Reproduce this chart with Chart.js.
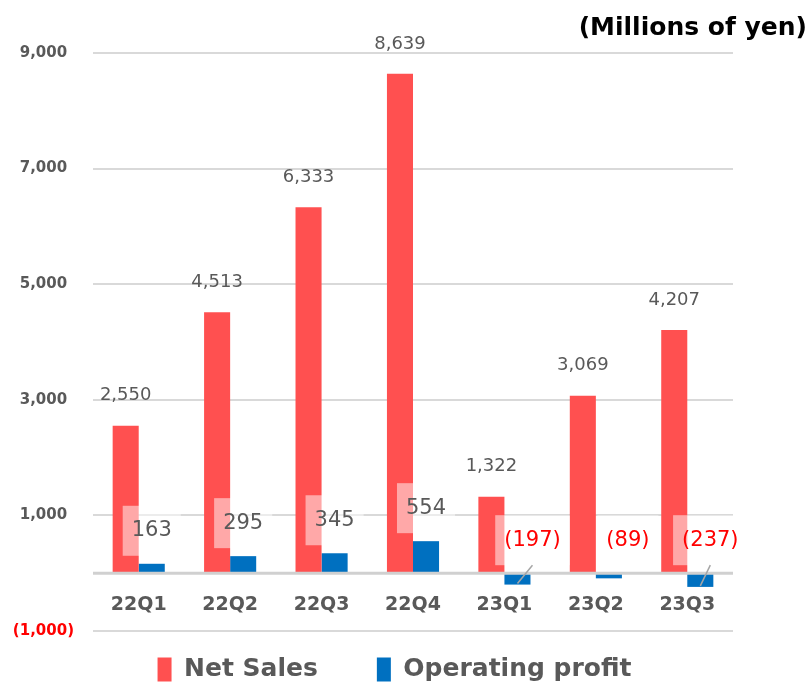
<!DOCTYPE html>
<html lang="en">
<head>
    <meta charset="UTF-8">
    <title>Net Sales and Operating profit</title>
    <script src="https://cdn.jsdelivr.net/npm/chart.js"></script>
    <style>
        html, body { margin: 0; padding: 0; background: #fff; overflow: hidden; }
        .chart-box { width: 807px; height: 725px; }
    </style>
</head>
<body>
    <div class="chart-box"><canvas id="salesChart" width="807" height="725"></canvas></div>
    <script>
        // data
        var quarters = ['22Q1', '22Q2', '22Q3', '22Q4', '23Q1', '23Q2', '23Q3'];
        var netSales = [2550, 4513, 6333, 8639, 1322, 3069, 4207];
        var operatingProfit = [163, 295, 345, 554, -197, -89, -237];
        var yMin = -1000, yMax = 9000, yStep = 2000;

        var FONT = '"DejaVu Sans", Verdana, sans-serif';
        var gray = '#595959';
        var red = '#FF5050';
        var blue = '#0070C0';

        // negative labels are pushed a bit to the right like in the original
        var negShift = { 4: 15, 5: 19, 6: 10 };
        var leaderLines = { 4: true, 6: true };

        function fmt(v) {
            var s = Math.abs(v).toLocaleString('en-US');
            return v < 0 ? '(' + s + ')' : s;
        }

        var ctx = document.getElementById('salesChart').getContext('2d');

        var decorPlugin = {
            id: 'decor',
            afterLayout: function(chart) {
                // pull legend up so it sits just under the plot
                var lg = chart.legend;
                lg.top -= 33; lg.bottom -= 33;
                lg.left -= 9; lg.right -= 9;
            },
            afterDatasetsDraw: function(chart) {
                var c = chart.ctx;
                var area = chart.chartArea;
                var y0 = chart.scales.y.getPixelForValue(0);
                c.save();

                // zero line
                c.strokeStyle = '#d0d0d0';
                c.lineWidth = 3;
                c.beginPath();
                c.moveTo(area.left, y0);
                c.lineTo(area.right, y0);
                c.stroke();

                // category labels just under the zero line
                c.fillStyle = gray;
                c.font = 'bold 19px ' + FONT;
                c.textAlign = 'center';
                c.textBaseline = 'middle';
                quarters.forEach(function(q, i) {
                    c.fillText(q, chart.scales.x.getPixelForValue(i), y0 + 32);
                });

                // net sales labels
                c.font = '18px ' + FONT;
                chart.getDatasetMeta(0).data.forEach(function(bar, i) {
                    c.fillStyle = gray;
                    c.fillText(fmt(netSales[i]), bar.x, bar.y - 30);
                });

                // operating profit labels with a see-through white box
                c.font = '21px ' + FONT;
                chart.getDatasetMeta(1).data.forEach(function(bar, i) {
                    var v = operatingProfit[i];
                    var txt = fmt(v);
                    var w = c.measureText(txt).width;
                    var cx = bar.x + (v < 0 ? negShift[i] : 0);
                    var cy = v < 0 ? y0 - 33 : bar.y - 33;
                    c.fillStyle = 'rgba(255,255,255,0.5)';
                    c.fillRect(cx - w / 2 - 9, cy - 25, w + 18, 50);
                    if (leaderLines[i]) {
                        c.strokeStyle = '#a6a6a6';
                        c.lineWidth = 1.5;
                        c.beginPath();
                        c.moveTo(bar.x, bar.y - 1);
                        c.lineTo(cx, cy + 25);
                        c.stroke();
                    }
                    c.fillStyle = v < 0 ? '#FF0000' : gray;
                    c.fillText(txt, cx, cy);
                });
                c.restore();
            }
        };

        new Chart(ctx, {
            type: 'bar',
            data: {
                labels: quarters,
                datasets: [
                    {
                        label: 'Net Sales',
                        data: netSales,
                        backgroundColor: red,
                        borderWidth: 0,
                        barPercentage: 1,
                        categoryPercentage: 0.57
                    },
                    {
                        label: 'Operating profit',
                        data: operatingProfit,
                        backgroundColor: blue,
                        borderWidth: 0,
                        barPercentage: 1,
                        categoryPercentage: 0.57
                    }
                ]
            },
            options: {
                responsive: false,
                animation: false,
                layout: { padding: 0 },
                plugins: {
                    title: {
                        display: true,
                        text: '(Millions of yen)',
                        align: 'end',
                        color: '#000',
                        font: { family: FONT, size: 25, weight: 'bold' },
                        padding: { top: 13, bottom: 10 }
                    },
                    legend: {
                        position: 'bottom',
                        labels: {
                            color: gray,
                            font: { family: FONT, size: 25, weight: 'bold' },
                            boxWidth: 14,
                            boxHeight: 24,
                            padding: 59
                        }
                    },
                    tooltip: { enabled: false }
                },
                scales: {
                    x: {
                        display: false
                    },
                    y: {
                        min: yMin,
                        max: yMax,
                        border: { display: false },
                        grid: { color: '#d9d9d9', lineWidth: 2, drawTicks: false },
                        ticks: {
                            stepSize: yStep,
                            padding: 19,
                            crossAlign: 'center',
                            font: { family: FONT, size: 15, weight: 'bold' },
                            color: function(c) { return c.tick.value < 0 ? '#FF0000' : gray; },
                            callback: function(v) { return fmt(v); }
                        },
                        afterFit: function(s) { s.width = 93; }
                    },
                    y2: {
                        position: 'right',
                        border: { display: false },
                        grid: { display: false },
                        ticks: { display: false },
                        afterFit: function(s) { s.width = 74; }
                    }
                }
            },
            plugins: [decorPlugin]
        });
    </script>
</body>
</html>
